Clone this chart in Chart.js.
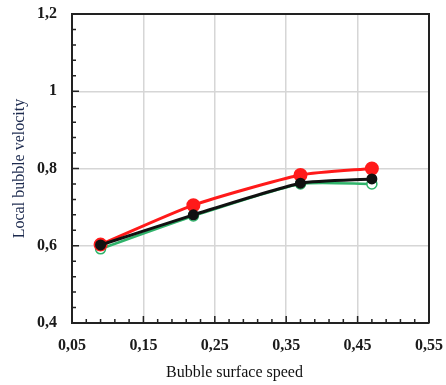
<!DOCTYPE html>
<html>
<head>
<meta charset="utf-8">
<script src="https://cdn.jsdelivr.net/npm/chart.js@4"></script>
<style>
body{margin:0;background:#fff}
#wrap{width:446px;height:385px}
</style>
</head>
<body>
<div id="wrap"><canvas id="c" width="446" height="385"></canvas></div>
<script>
const speeds=[0.09,0.22,0.37,0.47];
const redVals=[0.603,0.705,0.783,0.800];
const blackVals=[0.602,0.680,0.762,0.773];
const greenVals=[0.592,0.677,0.760,0.760];
const xTicks=[0.05,0.15,0.25,0.35,0.45,0.55];
const yTicks=[0.4,0.6,0.8,1.0,1.2];
const xMinorStep=0.02, yMinorStep=0.04;

function pts(ys){return speeds.map((x,i)=>({x:x,y:ys[i]}))}
function fmt(v){return String(+v.toFixed(2)).replace(".",",")}
function noOverflow(s){s.paddingTop=0;s.paddingBottom=0;s.paddingLeft=0;s.paddingRight=0}

// inward minor/major ticks and the closing box
const frame={
    id:"frame",
    afterDatasetsDraw(chart){
        const {ctx,chartArea:a,scales:{x,y}}=chart;
        ctx.save();
        ctx.strokeStyle="#222";
        ctx.lineWidth=1.5;
        ctx.beginPath();
        for(let k=0;k<=Math.round((x.max-x.min)/xMinorStep);k++){
            const v=x.min+k*xMinorStep;
            const px=x.getPixelForValue(v);
            const major=xTicks.some(t=>Math.abs(t-v)<1e-6);
            ctx.moveTo(px,a.bottom);ctx.lineTo(px,a.bottom-(major?7:4));
        }
        for(let k=0;k<=Math.round((y.max-y.min)/yMinorStep);k++){
            const v=y.min+k*yMinorStep;
            const py=y.getPixelForValue(v);
            const major=yTicks.some(t=>Math.abs(t-v)<1e-6);
            ctx.moveTo(a.left,py);ctx.lineTo(a.left+(major?7:4),py);
        }
        ctx.stroke();
        ctx.lineWidth=2;
        ctx.beginPath();
        ctx.moveTo(a.left,a.top);ctx.lineTo(a.right,a.top);ctx.lineTo(a.right,a.bottom);
        ctx.stroke();
        ctx.restore();
    }
};

new Chart(document.getElementById("c"),{
    type:"scatter",
    data:{datasets:[
        {data:pts(greenVals),showLine:true,borderColor:"#2fb36a",borderWidth:2.5,tension:0.2,
         pointRadius:5,pointBorderWidth:1.5,pointBackgroundColor:"#fff",pointBorderColor:"#2fb36a",order:3},
        {data:pts(redVals),showLine:true,borderColor:"#ff1a1a",borderWidth:3,tension:0.2,
         pointRadius:5.5,pointBackgroundColor:"#ff1a1a",pointBorderColor:"#ff1a1a",order:2},
        {data:pts(blackVals),showLine:true,borderColor:"#111",borderWidth:3,tension:0.2,
         pointRadius:4,pointBackgroundColor:"#111",pointBorderColor:"#111",order:1}
    ]},
    options:{
        responsive:false,animation:false,
        layout:{padding:{top:14,right:17,left:0,bottom:0}},
        plugins:{legend:{display:false},tooltip:{enabled:false}},
        scales:{
            x:{type:"linear",min:0.05,max:0.55,
               afterBuildTicks(s){s.ticks=xTicks.map(v=>({value:v}))},
               afterFit(s){s.height=62;noOverflow(s)},
               grid:{color:"#d6d6d6",lineWidth:1.5,drawTicks:false},
               border:{color:"#222",width:2},
               ticks:{padding:13,color:"#1a1a1a",font:{family:"Liberation Serif",size:16,weight:"bold"},callback:fmt},
               title:{display:true,text:"Bubble surface speed\u00a0\u00a0\u00a0\u00a0\u00a0\u00a0\u00a0\u00a0",color:"#111",
                      font:{family:"Liberation Serif",size:16},padding:{top:0,bottom:3}}},
            y:{min:0.4,max:1.2,
               afterBuildTicks(s){s.ticks=yTicks.map(v=>({value:v}))},
               afterFit(s){s.width=72;noOverflow(s)},
               grid:{color:"#d6d6d6",lineWidth:1.5,drawTicks:false},
               border:{color:"#222",width:2},
               ticks:{padding:15,color:"#1a1a1a",font:{family:"Liberation Serif",size:16,weight:"bold"},callback:fmt},
               title:{display:true,text:"Local bubble velocity",color:"#1c2a4e",
                      font:{family:"Liberation Serif",size:16},padding:{top:10,bottom:0}}}
        }
    },
    plugins:[frame]
});
</script>
</body>
</html>
